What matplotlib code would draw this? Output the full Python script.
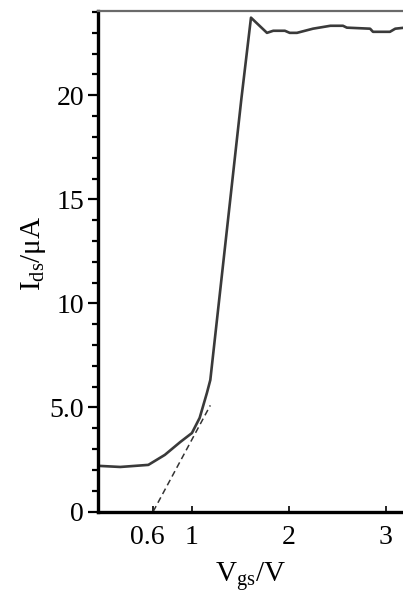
import numpy as np
import matplotlib
matplotlib.use("Agg")
import matplotlib.pyplot as plt
import matplotlib.transforms as mtransforms
from matplotlib.ticker import MultipleLocator

plt.rcParams['font.family'] = ['Liberation Serif', 'DejaVu Serif']
plt.rcParams['mathtext.fontset'] = 'custom'
plt.rcParams['mathtext.rm'] = 'Liberation Serif'
plt.rcParams['mathtext.it'] = 'Liberation Serif:italic'

# transfer curve
vgs = [0.03, 0.05, 0.26, 0.55, 0.72, 0.88, 1.0, 1.08, 1.155, 1.19,
       1.51, 1.61, 1.775, 1.84, 1.96, 2.01, 2.085, 2.25, 2.43, 2.56,
       2.6, 2.84, 2.87, 3.045, 3.1, 3.18]
ids = [2.2, 2.19, 2.14, 2.24, 2.72, 3.34, 3.77, 4.5, 5.7, 6.32,
       19.8, 23.73, 23.0, 23.1, 23.1, 23.0, 23.0, 23.2, 23.34, 23.34,
       23.25, 23.2, 23.05, 23.05, 23.2, 23.24]

# threshold extrapolation line
fit_v = [0.6, 1.19]
fit_i = [0.0, 5.1]

yticks = [0, 5, 10, 15, 20]
ylabels = ['0', '5.0', '10', '15', '20']
xticks = [0.6, 1, 2, 3]
xlabels = ['0.6', '1', '2', '3']

fig = plt.figure(figsize=(4.03, 5.96), dpi=100)
ax = fig.add_axes([98 / 403, 1 - 511.5 / 596, 1 - 98 / 403, (511.5 - 11) / 596])

ax.plot(vgs, ids, color='#3a3a3a', lw=1.9, solid_joinstyle='round')
ax.plot(fit_v, fit_i, color='#333333', lw=1.1, ls=(0, (4, 2.5)))

ax.set_xlim(0.03, 3.18)
ax.set_ylim(0, 24.05)

ax.spines['right'].set_visible(False)
ax.spines['left'].set_linewidth(2.4)
ax.spines['bottom'].set_linewidth(2.4)
ax.spines['top'].set_linewidth(1.6)
ax.spines['top'].set_color('#6a6a6a')

ax.set_yticks(yticks)
ax.set_yticklabels(ylabels)
ax.yaxis.set_minor_locator(MultipleLocator(1))
ax.set_xticks(xticks)
ax.set_xticklabels(xlabels)

ax.tick_params(axis='y', which='major', direction='out', length=7, width=1.6,
               labelsize=20, pad=3)
ax.tick_params(axis='y', which='minor', direction='out', length=4.5, width=1.6)
ax.tick_params(axis='x', which='major', direction='in', length=4, width=1.2,
               labelsize=20, pad=10)

# the 0.6 label sits a bit left of its tick in the original
lab06 = ax.get_xticklabels()[0]
lab06.set_transform(lab06.get_transform() +
                    mtransforms.ScaledTranslation(-0.06, 0, fig.dpi_scale_trans))

ax.set_xlabel(r'V$_{\mathrm{gs}}$/V', fontsize=21, labelpad=7)
ax.set_ylabel(r'I$_{\mathrm{ds}}$/μA', fontsize=21)
ax.yaxis.set_label_coords(-0.165, 0.515)

fig.savefig('out.png', dpi=100)
